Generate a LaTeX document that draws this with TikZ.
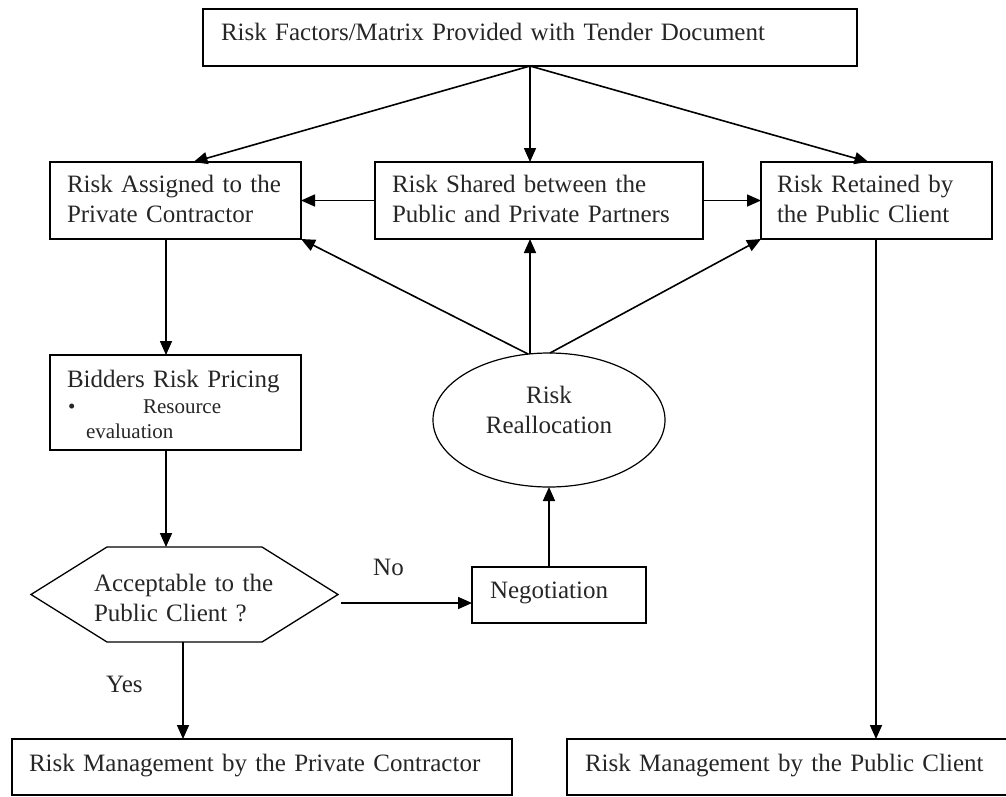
\documentclass[tikz,border=0pt]{standalone}
\usepackage{fontspec}
\setmainfont{Liberation Serif}
\usetikzlibrary{arrows.meta,shapes.geometric,calc}
\begin{document}
\begin{tikzpicture}[x=1pt,y=-1pt,
  every node/.style={font=\fontsize{25}{30}\selectfont, text=black!85},
  box/.style={draw, line width=1.6pt, rectangle, inner ysep=0pt, outer sep=0pt,
              align=left, anchor=north west},
  arr/.style={line width=1.6pt, -{Triangle[length=14pt,width=12pt]}},
  lbl/.style={anchor=base west, inner sep=0pt}]
\useasboundingbox (0,0) rectangle (1006,796);

% boxes
\node[box, minimum width=654pt, minimum height=57pt, inner xsep=18pt,
      text width=618pt, text height=31pt, text depth=26pt] (top) at (203,9)
  {Risk Factors/Matrix Provided with Tender Document};
\node[box, minimum width=251pt, minimum height=77pt, inner xsep=17pt,
      text width=217pt, text height=30pt, text depth=47pt] (assigned) at (50,162)
  {Risk Assigned to the\\Private Contractor};
\node[box, minimum width=328pt, minimum height=77pt, inner xsep=17pt,
      text width=294pt, text height=30pt, text depth=47pt] (shared) at (375,162)
  {Risk Shared between the\\Public and Private Partners};
\node[box, minimum width=231pt, minimum height=77pt, inner xsep=16pt,
      text width=199pt, text height=30pt, text depth=47pt] (retained) at (761,162)
  {Risk Retained by\\the Public Client};
\node[box, minimum width=251pt, minimum height=95pt, inner xsep=17pt,
      text width=217pt, text height=32pt, text depth=63pt] (bidders) at (50,355)
  {Bidders Risk Pricing\\[-4pt]
   {\fontsize{21}{25}\selectfont\makebox[76pt][l]{\hspace*{1pt}\textbullet}Resource}\\[-5pt]
   {\fontsize{21}{25}\selectfont\hspace*{19pt}evaluation}};
\node[draw, ellipse, line width=1.2pt, inner sep=0pt, outer sep=0pt,
      minimum width=232pt, minimum height=134pt, align=center,
      text height=50pt, text depth=24pt] (realloc) at (549,420)
  {Risk\\Reallocation};
\node[box, minimum width=174pt, minimum height=56pt, inner xsep=18pt,
      text width=138pt, text height=31pt, text depth=25pt] (nego) at (472,567)
  {Negotiation};

% decision hexagon
\node[box, draw=none, minimum width=307pt, minimum height=95pt, inner xsep=60pt,
      text width=187pt, text height=44pt, text depth=51pt] (accept) at (34,547)
  {Acceptable to the\\Public Client ?};
\draw[line width=1.3pt, line join=miter]
  ([xshift=-3pt]accept.west) -- ([xshift=73pt]accept.north west)
  -- ([xshift=-79pt]accept.north east) -- ([xshift=-3pt]accept.east)
  -- ([xshift=-79pt]accept.south east) -- ([xshift=73pt]accept.south west) -- cycle;

\node[box, minimum width=500pt, minimum height=56pt, inner xsep=17pt,
      text width=466pt, text height=32pt, text depth=24pt] (pmgmt) at (12,739)
  {Risk Management by the Private Contractor};
\node[box, minimum width=443pt, minimum height=56pt, inner xsep=18pt,
      text width=407pt, text height=32pt, text depth=24pt] (cmgmt) at (567,739)
  {Risk Management by the Public Client};

% labels
\node[lbl] (lblno) at (373,575) {No};
\node[lbl] (lblyes) at (106,692) {Yes};

% helper points on the decision, the ellipse and the retained box
\coordinate (nostart) at ($(accept.east)+(0,8.5)$);
\coordinate (yesstart) at ($(accept.south)+(-4.5,0)$);
\coordinate (retstart) at ($(retained.south)+(-0.5,0)$);
\coordinate (rtop) at ($(realloc.north)+(-19,1)$);
\coordinate (rleft) at ($(realloc.north)+(-21,1)$);
\coordinate (rright) at ($(realloc.north)+(1,0)$);

% connectors
\draw[arr] (top.south) -- ([xshift=18pt]assigned.north);
\draw[arr] (top.south) -- (top.south |- shared.north);
\draw[arr] (top.south) -- ([xshift=-8pt]retained.north);
\draw[arr] (shared.west) -- (assigned.east);
\draw[arr] (shared.east) -- (retained.west);
\draw[arr] ([xshift=-9.5pt]assigned.south) -- ([xshift=-9.5pt]assigned.south |- bidders.north);
\draw[arr] ([xshift=-9.5pt]bidders.south) -- ([xshift=-9.5pt]bidders.south |- accept.north);
\draw[arr] (nostart) -- (nostart -| nego.west);
\draw[arr] (realloc.south |- nego.north) -- (realloc.south);
\draw[arr] (rtop) -- (rtop |- shared.south);
\draw[arr] (rleft) -- (assigned.south east);
\draw[arr] (rright) -- (retained.south west);
\draw[arr] (yesstart) -- (yesstart |- pmgmt.north);
\draw[arr] (retstart) -- (retstart |- cmgmt.north);
\end{tikzpicture}
\end{document}
